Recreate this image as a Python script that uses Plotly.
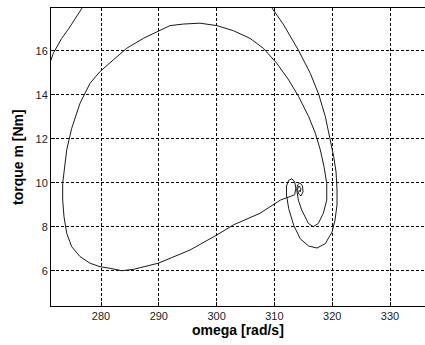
import plotly.graph_objects as go

# Trajectory: omega [rad/s] vs torque m [Nm]
omega = [
    270.8, 271.35, 271.75, 272.34, 273.20, 274.34, 275.50, 276.83, 278.1,
    290.0, 303.0, 307.5,
    309.58, 311.61, 314.20, 316.21, 317.66, 318.81, 319.67, 320.26, 320.66,
    320.83, 320.83, 320.48, 319.97, 318.81, 317.37, 315.93, 314.48, 313.34,
    312.47, 312.09, 312.09, 312.47, 313.04, 313.51, 313.70, 313.50,
    311.04, 307.51, 302.89, 300.02, 295.40, 289.91, 285.59, 283.58, 281.56,
    279.83, 278.10, 276.37, 274.93, 274.07, 273.60, 273.37, 273.37, 273.60,
    274.07, 274.93, 276.37, 278.10, 279.83, 282.13, 284.45, 287.32, 289.64,
    291.94, 294.24, 297.13, 300.02, 302.89, 305.78, 308.08, 310.40, 312.47,
    314.20, 315.93, 317.08, 317.94, 318.58, 319.05, 319.05, 318.46, 317.60,
    316.73, 315.87, 314.72, 314.14, 313.86,
    313.99, 314.40, 314.86, 314.95, 314.60, 314.17, 314.00, 314.26, 314.60,
    314.43, 314.35,
]
torque = [
    15.30, 15.58, 15.88, 16.18, 16.56, 16.97, 17.43, 17.94, 18.5,
    20.0, 19.5, 18.6,
    17.94, 17.17, 16.00, 14.97, 14.02, 13.00, 11.99, 11.18, 10.49,
    9.67, 8.99, 8.30, 7.76, 7.23, 7.03, 7.12, 7.45, 8.06,
    8.82, 9.44, 9.85, 10.11, 10.18, 10.03, 9.75, 9.45,
    9.21, 8.61, 8.08, 7.62, 6.94, 6.34, 6.06, 6.00, 6.11,
    6.18, 6.34, 6.64, 7.09, 7.70, 8.45, 9.21, 9.97, 10.58,
    11.49, 12.47, 13.61, 14.52, 15.05, 15.58, 16.11, 16.56, 16.86,
    17.14, 17.21, 17.25, 17.14, 16.91, 16.56, 16.11, 15.43, 14.67,
    13.91, 13.00, 12.25, 11.49, 10.73, 9.97, 9.21, 8.61, 8.15,
    8.00, 8.15, 8.76, 9.21, 9.67,
    9.90, 9.99, 9.85, 9.58, 9.40, 9.49, 9.72, 9.85, 9.72,
    9.58, 9.65,
]

x_ticks = [280, 290, 300, 310, 320, 330]
y_ticks = [6, 8, 10, 12, 14, 16]
x_range = [271.35, 336.05]
y_range = [4.395, 17.94]

fig = go.Figure()
fig.add_trace(go.Scatter(
    x=omega, y=torque, mode="lines",
    line=dict(color="#1a1a1a", width=1),
    showlegend=False, hoverinfo="skip",
))

axis_font = dict(family="Liberation Sans, Arial, sans-serif", size=11, color="#222")
title_font = dict(family="Liberation Sans, Arial, sans-serif", size=14, color="#000")

fig.update_layout(
    width=425, height=345,
    margin=dict(l=51, r=0, t=8, b=39, autoexpand=False),
    paper_bgcolor="white", plot_bgcolor="white",
    xaxis=dict(
        range=x_range, tickvals=x_ticks, ticktext=[str(v) for v in x_ticks],
        showgrid=True, gridcolor="#000", gridwidth=1, griddash="3px,2px",
        zeroline=False, showline=True, linecolor="#000", linewidth=1,
        mirror=True, ticks="inside", ticklen=4, tickcolor="#000",
        tickfont=axis_font, automargin=False,
    ),
    yaxis=dict(
        range=y_range, tickvals=y_ticks, ticktext=[str(v) for v in y_ticks],
        showgrid=True, gridcolor="#000", gridwidth=1, griddash="3px,2px",
        zeroline=False, showline=True, linecolor="#000", linewidth=1,
        mirror=False, ticks="inside", ticklen=4, tickcolor="#000",
        tickfont=axis_font, automargin=False,
    ),
    annotations=[
        dict(text="<b>omega [rad/s]</b>", xref="paper", yref="paper",
             x=0.5, y=0, xanchor="center", yanchor="middle",
             yshift=-24, showarrow=False, font=title_font),
        dict(text="<b>torque m [Nm]</b>", xref="paper", yref="paper",
             x=0, y=0.5, xanchor="center", yanchor="middle", textangle=-90,
             xshift=-33, showarrow=False, font=title_font),
    ],
)

# remove the browser's default page margin so the figure fills the window
fig.write_html(
    "out.html",
    config={"displayModeBar": False, "staticPlot": True},
    post_script=(
        "document.body.style.margin='0';"
        "document.body.style.overflow='hidden';"
        "document.documentElement.style.overflow='hidden';"
    ),
)
